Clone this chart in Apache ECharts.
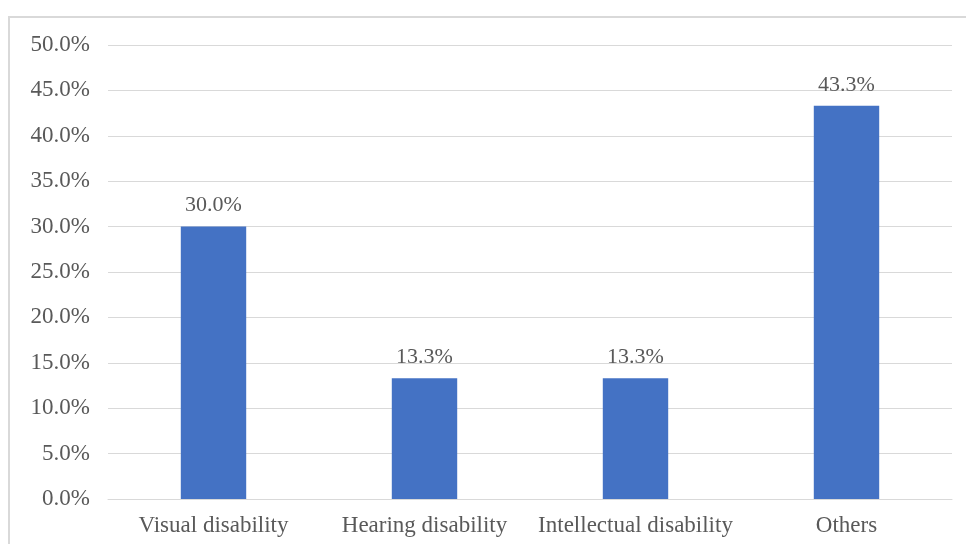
<!DOCTYPE html>
<html>
<head>
<meta charset="utf-8">
<style>
  html, body { margin: 0; padding: 0; background: #ffffff; }
  #chart { width: 966px; height: 544px; }
</style>
<script src="https://cdn.jsdelivr.net/npm/echarts@6/dist/echarts.min.js"></script>
</head>
<body>
<div id="chart"></div>
<script>
// Share of respondents by disability type (percent)
const categories = ['Visual disability', 'Hearing disability', 'Intellectual disability', 'Others'];
const shares = [30.0, 13.3, 13.3, 43.3];

const axisMin = 0;
const axisMax = 50;
const axisStep = 5;

const textColor = '#595959';
const serif = '"Liberation Serif", "Times New Roman", serif';

const chart = echarts.init(document.getElementById('chart'), null, { renderer: 'canvas' });

chart.setOption({
  backgroundColor: '#ffffff',
  animation: false,
  graphic: [{
    type: 'rect',
    silent: true,
    shape: { x: 9, y: 17, width: 1000, height: 600 },
    style: { fill: 'none', stroke: '#d9d9d9', lineWidth: 2 }
  }],
  grid: { left: 108, right: 14, top: 45, bottom: 45, containLabel: false },
  xAxis: {
    type: 'category',
    data: categories,
    axisLine: { show: true, lineStyle: { color: '#d9d9d9', width: 1 } },
    axisTick: { show: false },
    axisLabel: {
      color: textColor,
      fontFamily: serif,
      fontSize: 23,
      margin: 15,
      interval: 0
    }
  },
  yAxis: {
    type: 'value',
    min: axisMin,
    max: axisMax,
    interval: axisStep,
    axisLine: { show: false },
    axisTick: { show: false },
    splitLine: { lineStyle: { color: '#d9d9d9', width: 1 } },
    axisLabel: {
      color: textColor,
      fontFamily: serif,
      fontSize: 23,
      margin: 18,
      formatter: v => v.toFixed(1) + '%'
    }
  },
  series: [{
    type: 'bar',
    data: shares,
    barWidth: '31%',
    itemStyle: { color: '#4472C4' },
    label: {
      show: true,
      position: 'top',
      distance: 10,
      color: textColor,
      fontFamily: serif,
      fontSize: 22,
      formatter: p => p.value.toFixed(1) + '%'
    }
  }]
});
</script>
</body>
</html>
